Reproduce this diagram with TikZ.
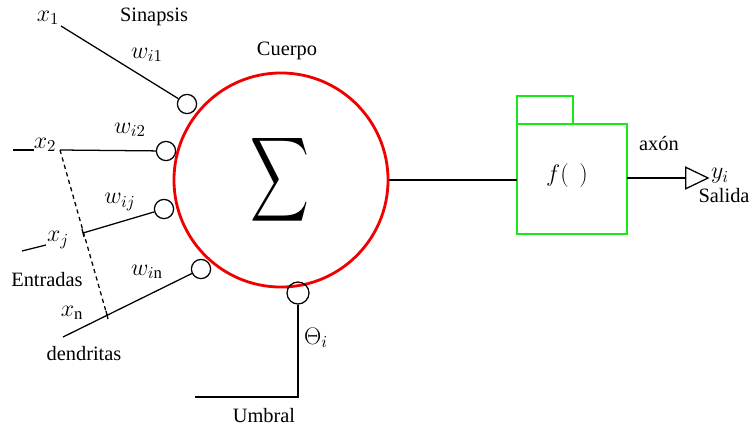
\RequirePackage{fix-cm}
\documentclass[tikz,border=0pt]{standalone}
\usepackage{fontspec}
\setmainfont{Liberation Serif}
\definecolor{bodyred}{RGB}{240, 0, 0}
\definecolor{fgreen}{RGB}{20, 235, 20}
\usetikzlibrary{positioning, calc, shapes.geometric}

\begin{document}
\begin{tikzpicture}[
  x=0.025cm, y=-0.025cm,
  txt/.style={font=\rmfamily\fontsize{14.5}{16}\selectfont, inner sep=0pt},
  mth/.style={font=\fontsize{17}{19}\selectfont, inner sep=0pt},
  syn/.style={draw, circle, line width=0.9pt, minimum size=0.48cm, inner sep=0pt},
  gbox/.style={draw=fgreen, line width=2pt, inner sep=0pt, outer sep=0pt},
  wire/.style={line width=0.9pt},
  tick/.style={line width=0.9pt}
]
  \useasboundingbox (0,0) rectangle (754,428);

  % cuerpo de la neurona
  \node[draw=bodyred, line width=2pt, circle, minimum size=5.35cm, inner sep=0pt] (body) at (281,180) {};
  \node (sum) at (280,180) {\scalebox{2.9}[4.2]{$\displaystyle\sum$}};
  \node[txt] (cuerpo) at (287,51) {Cuerpo};

  % sinapsis
  \node[syn] (s1) at (187,104) {};
  \node[syn] (s2) at (166,151) {};
  \node[syn] (sj) at (164,209) {};
  \node[syn] (sn) at (201,269) {};
  \node[syn, minimum size=0.55cm] (st) at (298,293) {};

  % entradas
  \coordinate (a1) at (61,26);
  \coordinate (a2) at (60,150);
  \coordinate (b2) at (13,150);
  \coordinate (c2) at (34,150);
  \coordinate (aj) at (83,233);
  \coordinate (bj) at (22,251);
  \coordinate (cj) at (46,245);
  \coordinate (an) at (107,315);
  \coordinate (bn) at (63,337);

  \draw[wire] (a1) -- (s1);
  \draw[wire] (b2) -- (c2);
  \draw[wire] (a2) -- (s2);
  \draw[wire] (bj) -- (cj);
  \draw[wire] (aj) -- (sj);
  \draw[wire] (bn) -- (sn);
  \draw[wire, dashed, dash pattern=on 3pt off 2.5pt] (a2) -- (an);
  \draw[tick] ($(aj)+(-1,-4)$) -- ($(aj)+(1,4)$);
  \draw[tick] ($(an)+(-1,-4)$) -- ($(an)+(1,4)$);

  \node[mth] (x1) at (48,18) {$x_1$};
  \node[txt] (sinapsis) at (154,17) {Sinapsis};
  \node[mth] (w1) at (147,55) {$w_{i1}$};
  \node[mth] (w2) at (130,130) {$w_{i2}$};
  \node[mth] (x2) at (45,145) {$x_2$};
  \node[mth] (wj) at (120,202) {$w_{ij}$};
  \node[mth] (xj) at (58,240) {$x_j$};
  \node[txt] (entradas) at (47,280) {Entradas};
  \node[mth] (wn) at (147,272) {$w_{i\mathrm{n}}$};
  \node[mth] (xn) at (72,313) {$x_\mathrm{n}$};
  \node[txt] (dendritas) at (84,354) {dendritas};

  % umbral
  \coordinate (t1) at (298,397);
  \coordinate (t2) at (195,397);
  \draw[wire] (st) -- (t1) -- (t2);
  \node[mth] (theta) at (316,338) {$\Theta_i$};
  \node[txt] (umbral) at (264,416) {Umbral};

  % funcion de activacion
  \node[gbox, minimum width=2.75cm, minimum height=2.75cm] (fbox) at (572,179) {};
  \node[gbox, minimum width=1.4cm, minimum height=0.7cm, anchor=south west] (tab) at (fbox.north west) {};
  \node[mth] (f) at (567,176) {$f(\;\,)$};
  \draw[wire] (body.east) -- (fbox.west |- body.east);

  % salida
  \node[draw, line width=0.9pt, isosceles triangle, isosceles triangle stretches, minimum height=0.56cm, minimum width=0.54cm, inner sep=0pt, anchor=west] (out) at (685,178) {};
  \draw[wire] (fbox.east |- out.west) -- (out.west);
  \node[txt] (axon) at (659,144) {axón};
  \node[mth] (y) at (720,176) {$y_i$};
  \node[txt] (salida) at (724,196) {Salida};
\end{tikzpicture}
\end{document}
